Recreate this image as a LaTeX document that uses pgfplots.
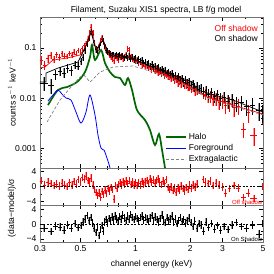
\documentclass[border=0pt]{standalone}
\usepackage{pgfplots}
\usepackage{pgfplotstable}
\usepackage{fontspec}
\setmainfont{Liberation Sans}
\pgfplotsset{compat=1.18}
\definecolor{halo}{rgb}{0,0.4,0}
\definecolor{lred}{rgb}{1,0.6,0.6}
\definecolor{lgray}{rgb}{0.62,0.62,0.62}
\definecolor{frame}{rgb}{0.45,0.45,0.45}

\pgfplotstableread{
E V dV dE R
0.305 0.058 0.012 0.007 1.5
0.318 0.046 0.010 0.006 0.4
0.331 0.062 0.011 0.006 1.2
0.344 0.071 0.012 0.006 0.8
0.357 0.060 0.010 0.006 0.2
0.370 0.074 0.011 0.006 0.6
0.383 0.066 0.010 0.006 0.1
0.396 0.078 0.011 0.006 0.9
0.409 0.070 0.010 0.006 0.3
0.422 0.068 0.009 0.006 0.0
0.435 0.079 0.010 0.006 1.0
0.448 0.073 0.009 0.006 0.4
0.461 0.084 0.010 0.006 1.3
0.474 0.077 0.009 0.006 0.6
0.487 0.091 0.011 0.006 1.8
0.500 0.086 0.010 0.006 1.1
0.512 0.099 0.012 0.006 2.4
0.524 0.112 0.013 0.006 1.9
0.536 0.124 0.014 0.006 2.8
0.548 0.152 0.018 0.006 1.6
0.560 0.205 0.028 0.006 1.2
0.572 0.262 0.038 0.006 2.2
0.584 0.205 0.028 0.006 0.4
0.596 0.128 0.017 0.006 -0.8
0.608 0.095 0.013 0.006 -1.6
0.620 0.090 0.012 0.006 -2.4
0.632 0.108 0.014 0.006 -1.8
0.644 0.140 0.018 0.006 -2.9
0.656 0.158 0.021 0.006 -1.4
0.668 0.132 0.017 0.006 -2.2
0.680 0.104 0.014 0.006 -1.0
0.692 0.088 0.012 0.006 -1.9
0.705 0.082 0.011 0.007 -0.6
0.719 0.073 0.010 0.007 -1.2
0.733 0.067 0.009 0.007 -0.3
0.747 0.061 0.009 0.007 -0.9
0.761 0.058 0.009 0.007 -3.4
0.776 0.068 0.009 0.007 0.2
0.791 0.063 0.009 0.007 -0.4
0.806 0.060 0.009 0.008 0.5
0.822 0.066 0.009 0.008 0.9
0.838 0.070 0.010 0.008 0.3
0.854 0.062 0.009 0.008 1.1
0.871 0.067 0.009 0.008 0.6
0.888 0.074 0.010 0.008 1.4
0.906 0.097 0.014 0.008 0.8
0.924 0.090 0.013 0.009 1.5
0.943 0.066 0.009 0.009 0.5
0.962 0.061 0.009 0.009 1.2
0.981 0.058 0.008 0.009 0.4
1.001 0.055 0.008 0.009 1.0
1.021 0.057 0.008 0.010 0.2
1.042 0.051 0.007 0.010 0.9
1.063 0.052 0.007 0.010 0.3
1.085 0.047 0.007 0.010 1.3
1.107 0.048 0.007 0.011 0.6
1.130 0.044 0.006 0.011 1.1
1.153 0.045 0.007 0.011 1.6
1.177 0.041 0.006 0.011 0.8
1.201 0.042 0.006 0.012 1.9
1.226 0.038 0.006 0.012 1.2
1.251 0.039 0.006 0.012 1.7
1.277 0.035 0.005 0.013 0.9
1.303 0.037 0.006 0.013 1.5
1.330 0.033 0.005 0.013 2.0
1.358 0.034 0.005 0.013 1.1
1.386 0.031 0.005 0.014 0.5
1.415 0.032 0.005 0.014 1.4
1.444 0.029 0.005 0.014 0.7
1.474 0.030 0.005 0.015 1.8
1.505 0.027 0.004 0.015 -0.3
1.537 0.028 0.005 0.015 -0.8
1.569 0.025 0.004 0.016 -0.2
1.602 0.026 0.004 0.016 -1.1
1.636 0.023 0.004 0.016 -0.5
1.670 0.024 0.004 0.017 -1.5
1.705 0.021 0.004 0.017 -0.4
1.741 0.022 0.004 0.017 -1.0
1.778 0.020 0.004 0.018 0.1
1.816 0.021 0.004 0.018 -0.6
1.855 0.018 0.003 0.019 -1.2
1.895 0.019 0.004 0.019 -0.3
1.936 0.017 0.003 0.020 -0.9
1.978 0.018 0.004 0.020 0.3
2.020 0.0155 0.003 0.021 -0.5
2.070 0.0165 0.0035 0.025 0.4
2.120 0.0140 0.003 0.025 -0.2
2.170 0.0150 0.0035 0.025 0.6
2.350 0.0125 0.003 0.030 1.8
2.420 0.0120 0.003 0.030 1.2
2.490 0.0106 0.0028 0.030 0.8
2.570 0.0110 0.003 0.035 1.4
2.660 0.0093 0.0025 0.040 0.2
2.760 0.0098 0.0028 0.040 0.9
2.870 0.0084 0.0025 0.050 0.4
2.990 0.0088 0.0027 0.050 -0.2
3.120 0.0072 0.0024 0.060 -1.8
3.280 0.0078 0.0026 0.070 -0.6
3.460 0.0066 0.0024 0.080 0.2
3.660 0.0070 0.0025 0.100 -0.5
3.900 0.0024 0.0008 0.120 -3.0
4.150 0.0052 0.0020 0.120 -1.8
4.450 0.0018 0.0007 0.200 -3.2
4.950 0.0050 0.0020 0.050 0.0
}\offdata

\pgfplotstableread{
E V dV dE R
0.315 0.020 0.006 0.017 -1.0
0.345 0.018 0.006 0.012 -2.0
0.365 0.030 0.007 0.010 -0.5
0.385 0.034 0.007 0.010 -0.8
0.405 0.032 0.007 0.010 -1.6
0.425 0.040 0.008 0.010 -0.3
0.445 0.036 0.008 0.010 -1.2
0.465 0.046 0.008 0.010 0.2
0.485 0.044 0.008 0.010 -0.9
0.502 0.055 0.009 0.008 -0.4
0.516 0.066 0.010 0.007 0.6
0.530 0.090 0.013 0.007 1.4
0.544 0.120 0.017 0.007 2.3
0.557 0.160 0.022 0.007 1.0
0.570 0.212 0.030 0.006 1.8
0.582 0.190 0.027 0.006 0.3
0.594 0.128 0.018 0.006 -1.0
0.606 0.094 0.014 0.006 -2.2
0.618 0.090 0.013 0.006 -0.8
0.630 0.104 0.014 0.006 -3.1
0.642 0.126 0.017 0.006 -1.5
0.654 0.150 0.020 0.006 -0.4
0.666 0.140 0.019 0.006 -1.8
0.678 0.112 0.015 0.006 0.6
0.690 0.092 0.013 0.006 1.2
0.703 0.086 0.012 0.007 0.3
0.716 0.081 0.011 0.007 1.5
0.730 0.078 0.011 0.007 0.8
0.744 0.073 0.010 0.007 1.9
0.758 0.075 0.010 0.007 1.1
0.773 0.070 0.010 0.007 2.2
0.788 0.074 0.010 0.008 1.4
0.803 0.068 0.010 0.008 0.9
0.819 0.072 0.010 0.008 2.0
0.835 0.066 0.009 0.008 1.3
0.851 0.070 0.010 0.008 2.4
0.868 0.065 0.009 0.008 1.6
0.885 0.069 0.010 0.009 1.0
0.903 0.064 0.009 0.009 2.1
0.921 0.068 0.010 0.009 1.4
0.940 0.062 0.009 0.009 2.6
0.959 0.066 0.009 0.009 1.8
0.979 0.060 0.009 0.010 1.2
0.999 0.063 0.009 0.010 2.0
1.020 0.056 0.008 0.010 1.5
1.041 0.060 0.009 0.010 0.9
1.063 0.054 0.008 0.011 1.7
1.085 0.057 0.008 0.011 2.2
1.108 0.050 0.007 0.011 1.1
1.131 0.053 0.008 0.011 1.8
1.155 0.047 0.007 0.012 1.3
1.179 0.050 0.007 0.012 0.7
1.204 0.044 0.007 0.012 1.6
1.229 0.047 0.007 0.012 2.3
1.255 0.041 0.006 0.013 1.0
1.282 0.044 0.007 0.013 1.9
1.309 0.039 0.006 0.013 1.2
1.337 0.041 0.006 0.014 0.6
1.365 0.036 0.006 0.014 1.5
1.394 0.038 0.006 0.014 2.4
1.424 0.034 0.005 0.015 1.1
1.454 0.036 0.006 0.015 0.4
1.485 0.032 0.005 0.015 1.7
1.517 0.033 0.005 0.016 0.8
1.549 0.029 0.005 0.016 1.3
1.582 0.031 0.005 0.016 2.1
1.616 0.027 0.005 0.017 0.5
1.651 0.028 0.005 0.017 1.4
1.686 0.025 0.004 0.018 0.2
1.722 0.027 0.005 0.018 1.0
1.759 0.023 0.004 0.018 1.8
1.797 0.025 0.004 0.019 0.7
1.836 0.021 0.004 0.019 1.2
1.876 0.023 0.004 0.020 0.3
1.917 0.020 0.004 0.020 0.9
1.960 0.021 0.004 0.021 1.6
2.010 0.018 0.0035 0.025 0.4
2.060 0.019 0.004 0.025 -0.6
2.110 0.0165 0.0035 0.025 0.8
2.170 0.0175 0.0035 0.030 -1.2
2.230 0.015 0.003 0.030 0.2
2.290 0.016 0.0035 0.030 -0.3
2.360 0.0135 0.003 0.035 -1.8
2.430 0.0145 0.0033 0.035 0.5
2.510 0.0122 0.003 0.040 -0.9
2.600 0.0130 0.0032 0.045 0.2
2.700 0.0110 0.003 0.050 -1.3
2.810 0.0118 0.003 0.055 -0.4
2.930 0.0098 0.0028 0.060 -1.6
3.060 0.0105 0.003 0.065 -0.7
3.210 0.0088 0.0027 0.070 -1.5
3.380 0.0094 0.0028 0.080 -0.2
3.570 0.0078 0.0026 0.090 0.4
3.800 0.0083 0.0027 0.110 -0.6
4.060 0.0068 0.0025 0.130 -1.2
4.380 0.0072 0.0026 0.150 -0.3
4.750 0.0058 0.0023 0.200 -2.6
4.980 0.0052 0.0020 0.020 0.2
}\ondata

\pgfplotsset{
  every axis/.append style={
    font=\fontsize{8.6}{10}\selectfont,
    scale only axis, width=223bp,
    xmode=log, xmin=0.3, xmax=5,
    axis line style={frame, line width=0.9bp},
    tick style={black, line width=0.4bp},
    major tick length=4bp, minor tick length=2bp,
    tick align=inside,
    xtick={0.3,0.5,1,2,3,5},
    minor xtick={0.4,0.6,0.7,0.8,0.9,4},
    /pgf/number format/assume math mode=true,
  },
  lightbar/.style={only marks, mark=*, mark size=0pt, mark options={draw=none, fill=none}, forget plot,
    error bars/.cd, y dir=both, y explicit, error mark=none,
    error bar style={draw=#1, line width=1.3bp}},
  darkbar/.style={only marks, mark=*, mark size=0pt, mark options={draw=none, fill=none}, forget plot,
    error bars/.cd, y dir=both, y explicit, x dir=both, x explicit, error mark=none,
    error bar style={draw=#1, line width=0.4bp}},
  reslight/.style={only marks, mark=*, mark size=0pt, mark options={draw=none, fill=none}, forget plot,
    error bars/.cd, y dir=both, y fixed=1, error mark=none,
    error bar style={draw=#1, line width=1.3bp}},
  resdark/.style={only marks, mark=*, mark size=0pt, mark options={draw=none, fill=none}, forget plot,
    error bars/.cd, y dir=both, y fixed=1, x dir=both, x explicit, error mark=none,
    error bar style={draw=#1, line width=0.4bp}},
}

\begin{document}
\begin{tikzpicture}[x=1bp,y=1bp]

% ---------------- main panel ----------------
\begin{axis}[
  at={(40bp,106bp)}, anchor=south west,
  height=151bp,
  ymode=log, ymin=0.0004, ymax=0.417,
  ytick={0.001,0.01,0.1}, yticklabels={0.001,0.01,0.1},
  minor ytick={0.0004,0.0005,0.0006,0.0007,0.0008,0.0009,0.002,0.003,0.004,0.005,0.006,0.007,0.008,0.009,0.02,0.03,0.04,0.05,0.06,0.07,0.08,0.09,0.2,0.3,0.4},
  xticklabels={},
  ylabel={counts s$^{-1}$ keV$^{-1}$},
  ylabel style={at={(axis description cs:-0.126,0.5)}, anchor=center},
  legend style={at={(axis description cs:0.56,0.245)}, anchor=north west,
    draw=none, fill=none, inner sep=0pt, row sep=-0.6bp,
    font=\fontsize{8.6}{10}\selectfont},
  legend cell align=left,
  legend image code/.code={\draw[#1] (0bp,0bp) -- (20bp,0bp);},
]
\addplot[lightbar=lred] table[x=E, y=V, y error=dV] {\offdata};
\addplot[lightbar=lgray] table[x=E, y=V, y error=dV] {\ondata};
\addplot[darkbar=red] table[x=E, y=V, y error=dV, x error=dE] {\offdata};
\addplot[darkbar=black] table[x=E, y=V, y error=dV, x error=dE] {\ondata};

\addplot[red, line width=0.7bp, forget plot] coordinates {
(0.30,0.040)(0.3194,0.0417)(0.3534,0.0575)(0.4217,0.0631)(0.4969,0.0724)(0.5293,0.10)(0.5497,0.1445)(0.5782,0.219)(0.6005,0.1148)(0.6159,0.0912)(0.656,0.166)(0.6988,0.0912)(0.7729,0.0661)(0.8992,0.0631)(0.915,0.068)(0.935,0.064)(0.9699,0.0631)(1.059,0.0501)(1.364,0.0331)(1.918,0.0182)(2.467,0.0105)(3.425,0.00724)(4.817,0.0050)(5.0,0.0046)};
\addplot[black, line width=0.7bp, forget plot] coordinates {
(0.30,0.0209)(0.3236,0.0209)(0.3236,0.0316)(0.3763,0.0398)(0.427,0.0457)(0.4844,0.0525)(0.5293,0.10)(0.5709,0.209)(0.6081,0.0912)(0.6643,0.1445)(0.7076,0.0832)(0.8027,0.0661)(0.9699,0.0631)(1.059,0.0525)(1.364,0.0363)(1.607,0.029)(1.918,0.0229)(2.05,0.021)(2.2,0.0145)(2.467,0.0126)(3.425,0.00912)(5.0,0.00525)};

\addplot[halo, line width=1.7bp, smooth] coordinates {
(0.3318,0.00724)(0.3763,0.0145)(0.4217,0.0166)(0.4784,0.0209)(0.5293,0.0331)(0.5638,0.0661)(0.5782,0.1148)(0.6005,0.0575)(0.6478,0.0912)(0.6813,0.0501)(0.7257,0.0331)(0.7729,0.0263)(0.8232,0.0251)(0.8768,0.0182)(0.9106,0.0251)(0.9578,0.0145)(1.020,0.00575)(1.128,0.00363)(1.202,0.00229)(1.280,0.00115)(1.346,0.00191)(1.399,0.000912)(1.453,0.000398)(1.5,0.0002)};
\addlegendentry{Halo}
\addplot[blue, line width=0.8bp, smooth] coordinates {
(0.3318,0.00871)(0.3534,0.0115)(0.3763,0.0145)(0.396,0.0120)(0.4166,0.0100)(0.4436,0.00912)(0.4725,0.00525)(0.5032,0.00316)(0.536,0.00525)(0.5638,0.0115)(0.6005,0.00457)(0.6237,0.00182)(0.6478,0.0010)(0.6727,0.000912)(0.6988,0.000631)(0.7257,0.000398)(0.75,0.0002)};
\addlegendentry{Foreground}
\addplot[gray, line width=0.7bp, dash pattern=on 3bp off 2bp] coordinates {
(0.3277,0.00331)(0.386,0.00912)(0.438,0.0158)(0.4969,0.0263)(0.5226,0.0288)(0.5638,0.0209)(0.6397,0.0331)(0.7536,0.0417)(0.9699,0.0437)(1.364,0.0302)(1.918,0.0174)(2.467,0.0100)(3.425,0.00692)(4.817,0.00479)(5.0,0.0046)};
\addlegendentry{Extragalactic}

\node[anchor=east, red, inner sep=0pt] at (rel axis cs:0.978,0.927) {Off shadow};
\node[anchor=east, black, inner sep=0pt] at (rel axis cs:0.978,0.861) {On shadow};
\end{axis}

% ---------------- residual: off shadow ----------------
\begin{axis}[
  at={(40bp,69bp)}, anchor=south west,
  height=37bp,
  ymin=-5, ymax=4.9,
  ytick={-4,0,4}, yticklabels={−4,0,4},
  minor ytick={-2,2},
  xticklabels={},
]
\addplot[reslight=lred] table[x=E, y=R] {\offdata};
\addplot[resdark=red] table[x=E, y=R, x error=dE] {\offdata};
\addplot[black, line width=0.4bp, dash pattern=on 2bp off 1.5bp] coordinates {(0.3,0)(5,0)};
\node[anchor=south east, red, inner sep=0.5bp, font=\fontsize{6}{7}\selectfont] at (rel axis cs:1,0) {Off shadow};
\end{axis}

% ---------------- residual: on shadow ----------------
\begin{axis}[
  at={(40bp,32bp)}, anchor=south west,
  height=37bp,
  ymin=-4.8, ymax=5.1,
  ytick={-4,0,4}, yticklabels={−4,0,4},
  minor ytick={-2,2},
  xticklabels={0.3,0.5,1,2,3,5},
  xlabel={channel energy (keV)},
  xlabel style={at={(axis description cs:0.5,-0.595)}, anchor=center},
]
\addplot[reslight=lgray] table[x=E, y=R] {\ondata};
\addplot[resdark=black] table[x=E, y=R, x error=dE] {\ondata};
\addplot[black, line width=0.4bp, dash pattern=on 2bp off 1.5bp] coordinates {(0.3,0)(5,0)};
\node[anchor=south east, black, inner sep=0.5bp, font=\fontsize{6}{7}\selectfont] at (rel axis cs:1,0) {On Shadow};
\end{axis}

\node[font=\fontsize{8.6}{10}\selectfont] at (156,264) {Filament, Suzaku XIS1 spectra, LB f/g model};
\node[rotate=90, font=\fontsize{8.6}{10}\selectfont] at (12,66) {(data−model)/σ};
\pgfresetboundingbox
\useasboundingbox (0,0) rectangle (274,274);
\end{tikzpicture}
\end{document}
